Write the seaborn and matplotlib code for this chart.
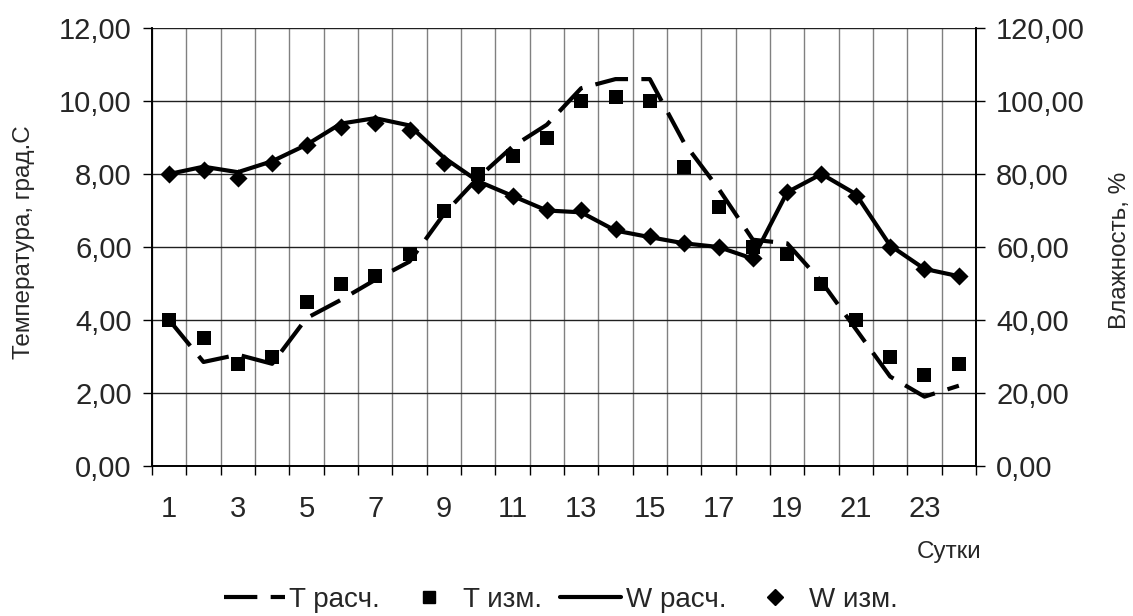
import matplotlib
matplotlib.use("Agg")
import matplotlib.pyplot as plt
import seaborn as sns
import pandas as pd
from matplotlib.ticker import FuncFormatter, FixedLocator
from matplotlib.lines import Line2D

# ---- data ----
days = list(range(1, 25))
x_tick_labels = [str(d) for d in range(1, 25, 2)]
t_calc = [4.0, 2.85, 3.05, 2.8, 4.05, 4.55, 5.1, 5.6, 6.9, 7.9, 8.75, 9.35,
          10.35, 10.6, 10.6, 8.85, 7.6, 6.2, 6.1, 5.05, 3.75, 2.45, 1.9, 2.2]
t_meas = [4.0, 3.5, 2.8, 3.0, 4.5, 5.0, 5.2, 5.8, 7.0, 8.0, 8.5, 9.0,
          10.0, 10.1, 10.0, 8.2, 7.1, 6.0, 5.8, 5.0, 4.0, 3.0, 2.5, 2.8]
w_calc = [80, 82, 80.5, 83.5, 88, 93.8, 95.3, 93.3, 84.5, 78, 74, 70,
          69.5, 64.5, 62.7, 61, 60, 56.8, 75, 80, 74.5, 60.4, 54, 52]
w_meas = [80, 81, 79, 83, 88, 93, 94, 92, 83, 77, 74, 70,
          70, 65, 63, 61, 60, 57, 75, 80, 74, 60, 54, 52]

df = pd.DataFrame({"day": days, "t_calc": t_calc, "t_meas": t_meas,
                   "w_calc": w_calc, "w_meas": w_meas})

sns.set_style("white")
plt.rcParams["font.family"] = ["Liberation Sans", "DejaVu Sans"]

fig = plt.figure(figsize=(11.33, 6.16), dpi=100)
ax = fig.add_axes([152/1133, 1-466/616, (976-152)/1133, (466-28)/616])
ax2 = ax.twinx()

LW = 3.0
DASH = (8, 3.2)
sns.lineplot(data=df, x="day", y="t_calc", ax=ax, color="black", lw=LW, zorder=3)
ax.lines[-1].set_dashes(DASH)
sns.scatterplot(data=df, x="day", y="t_meas", ax=ax, color="black",
                marker="s", s=95, edgecolor="black", linewidth=0, zorder=4)
sns.lineplot(data=df, x="day", y="w_calc", ax=ax2, color="black", lw=LW, zorder=3)
sns.scatterplot(data=df, x="day", y="w_meas", ax=ax2, color="black",
                marker="D", s=85, edgecolor="black", linewidth=0, zorder=4)

ax.set_xlim(0.5, 24.5)
ax.set_ylim(0, 12)
ax2.set_ylim(0, 120)

# grid / ticks
ax.set_yticks(range(0, 13, 2))
ax2.set_yticks(range(0, 121, 20))
ax.xaxis.set_major_locator(FixedLocator(range(1, 25, 2)))
ax.set_xticklabels(x_tick_labels)
ax.xaxis.set_minor_locator(FixedLocator([k + 0.5 for k in range(0, 25)]))
ax.grid(False)
ax2.grid(False)
ax.grid(which="minor", axis="x", color="#808080", lw=1.0)
ax.grid(which="major", axis="y", color="#202020", lw=1.0)
ax.set_axisbelow(True)

fmt = FuncFormatter(lambda v, p: f"{v:.2f}".replace(".", ","))
ax.yaxis.set_major_formatter(fmt)
ax2.yaxis.set_major_formatter(fmt)

FS = 21
ax.tick_params(axis="y", which="major", direction="out", length=6.5, width=1,
               labelsize=FS, pad=8, left=True, color="black")
ax2.tick_params(axis="y", which="major", direction="out", length=6.5, width=1,
                labelsize=FS, pad=8, right=True, color="black")
ax.tick_params(axis="x", which="major", length=0, labelsize=FS, pad=21)
ax.tick_params(axis="x", which="minor", direction="out", length=6.5, width=1,
               bottom=True, color="black")

for a in (ax, ax2):
    for s in a.spines.values():
        s.set_color("black")
        s.set_linewidth(1.2)
    a.spines["top"].set_visible(False)

ax.set_ylabel("")
ax2.set_ylabel("")
ax.set_xlabel("")
fig.text(24/1133, 1-242/616, "Температура, град.С", fontsize=17.5,
         rotation=90, ha="center", va="center")
fig.text(1120/1133, 1-250/616, "Влажность, %", fontsize=17.5,
         rotation=90, ha="center", va="center")
fig.text(981/1133, 1-558/616, "Сутки", fontsize=17.5, ha="right", va="baseline")

handles = [
    Line2D([], [], color="black", lw=LW, dashes=DASH),
    Line2D([], [], color="black", lw=0, marker="s", markersize=9),
    Line2D([], [], color="black", lw=LW),
    Line2D([], [], color="black", lw=0, marker="D", markersize=8),
]
labels = ["T расч.", "T изм.", "W расч.", "W изм."]
fig.legend(handles, labels, loc="center", bbox_to_anchor=(561/1133, 1-600/616),
           ncol=4, frameon=False, fontsize=20, handlelength=2.2,
           handletextpad=0.15, columnspacing=0.65)

fig.savefig("out.png", dpi=100)
